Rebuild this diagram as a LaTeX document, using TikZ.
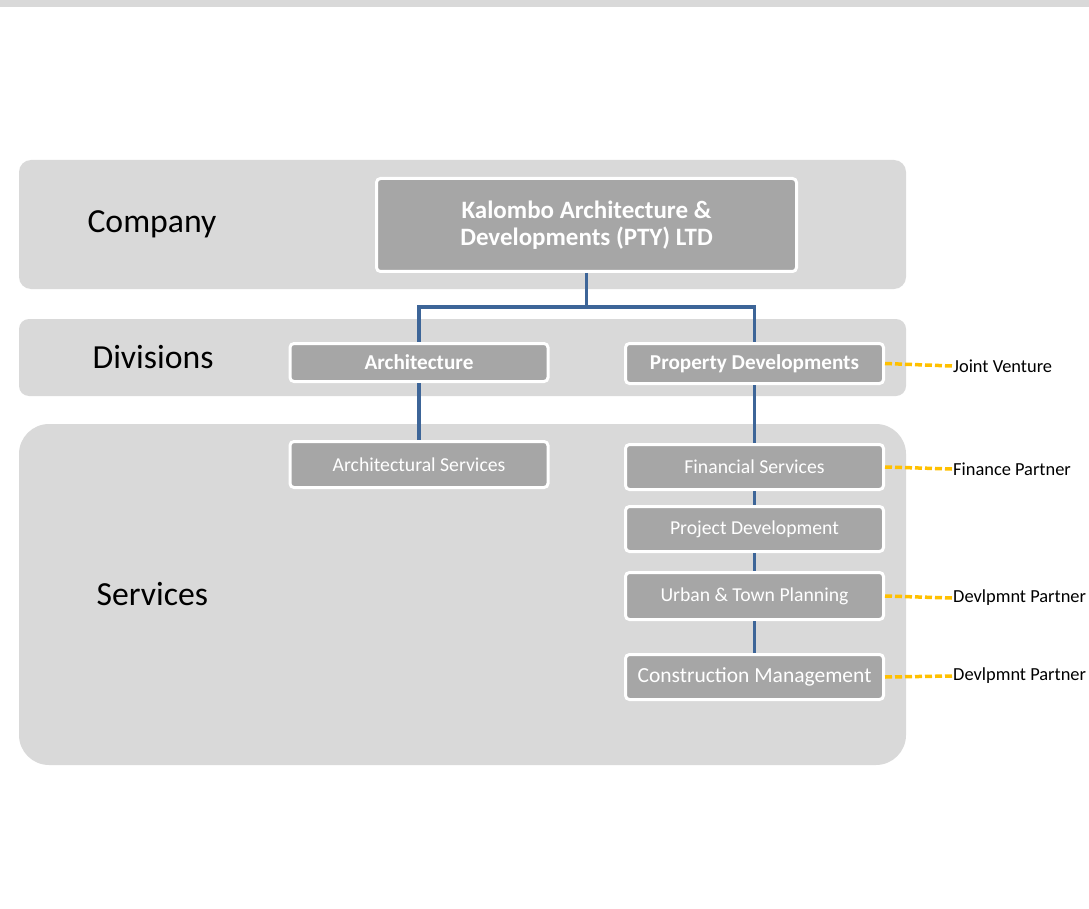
\documentclass[tikz,border=0pt]{standalone}
\usepackage{fontspec}
\setmainfont{Carlito}
\usetikzlibrary{positioning}

\definecolor{bandgray}{HTML}{D9D9D9}
\definecolor{boxgray}{HTML}{A6A6A6}
\definecolor{linkblue}{HTML}{3D6598}
\definecolor{jvyellow}{HTML}{FFC000}

\tikzset{
  band/.style={fill=bandgray, draw=none},
  unit/.style={fill=boxgray, draw=white, line width=3pt, rounded corners=4pt,
    text=white, minimum width=258pt, inner sep=0pt, align=center},
  div/.style={unit, font=\fontsize{21.2}{23}\selectfont\bfseries},
  serv/.style={unit, font=\fontsize{19.7}{22}\selectfont},
  level/.style={font=\fontsize{33.7}{36}\selectfont, anchor=west},
  partner/.style={font=\fontsize{18.4}{20}\selectfont, anchor=west, inner sep=1pt},
  link/.style={draw=linkblue, line width=3.5pt},
  jv/.style={draw=jvyellow, line width=3.5pt, dash pattern=on 7pt off 3pt}
}

\begin{document}
\begin{tikzpicture}[x=1pt,y=-1pt]
    \useasboundingbox (0,0) rectangle (1089,909);
    \fill[bandgray] (0,0) rectangle (1089,7);

    \draw[band, rounded corners=12pt] (19,160) rectangle (906,289);
    \draw[band, rounded corners=10pt] (19,319) rectangle (906,396);
    \draw[band, rounded corners=30pt] (19,424) rectangle (906,765);

    \node[level] (company) at (84,224) {Company};
    \node[level] (divisions) at (89,357) {Divisions};
    \node[level] (services) at (93,594) {Services};

    \node[unit, minimum width=420pt, minimum height=93pt,
      font=\fontsize{25}{27}\selectfont\bfseries] (kalombo) at (586.5,225)
      {Kalombo Architecture \&\\Developments (PTY) LTD};

    \node[div, minimum height=38pt] (arch) at (419,362.5) {Architecture};
    \node[div, minimum height=40pt] (prop) at (754.5,363.5) {Property Developments};

    \node[serv, minimum height=46pt] (archserv) at (419,464.5) {Architectural Services};
    \node[serv, minimum height=45pt] (fin) at (754.5,467) {Financial Services};
    \node[serv, minimum height=45pt] (proj) at (754.5,529) {Project Development};
    \node[serv, minimum height=47pt] (urban) at (754.5,596) {Urban \& Town Planning};
    \node[serv, minimum height=45pt, font=\fontsize{21.5}{24}\selectfont] (constr)
      at (754.5,677) {Construction Management};

    \coordinate (split) at (586.5,307);
    \draw[link] (kalombo.south) -- (split);
    \draw[link] (split) -| (arch.north);
    \draw[link] (split) -| (prop.north);
    \draw[link] (arch.south) -- (archserv.north);
    \draw[link] (prop.south) -- (fin.north);
    \draw[link] (fin.south) -- (proj.north);
    \draw[link] (proj.south) -- (urban.north);
    \draw[link] (urban.south) -- (constr.north);

    \node[partner] (jvpart) at (952,366) {Joint Venture};
    \node[partner] (finpart) at (952,469) {Finance Partner};
    \node[partner] (urbpart) at (952,598) {Devlpmnt Partner};
    \node[partner] (conpart) at (952,676) {Devlpmnt Partner};

    \draw[jv] (prop.east) -- (jvpart.west);
    \draw[jv] (fin.east) -- (finpart.west);
    \draw[jv] (urban.east) -- (urbpart.west);
    \draw[jv] (constr.east) -- (conpart.west);
\end{tikzpicture}
\end{document}
